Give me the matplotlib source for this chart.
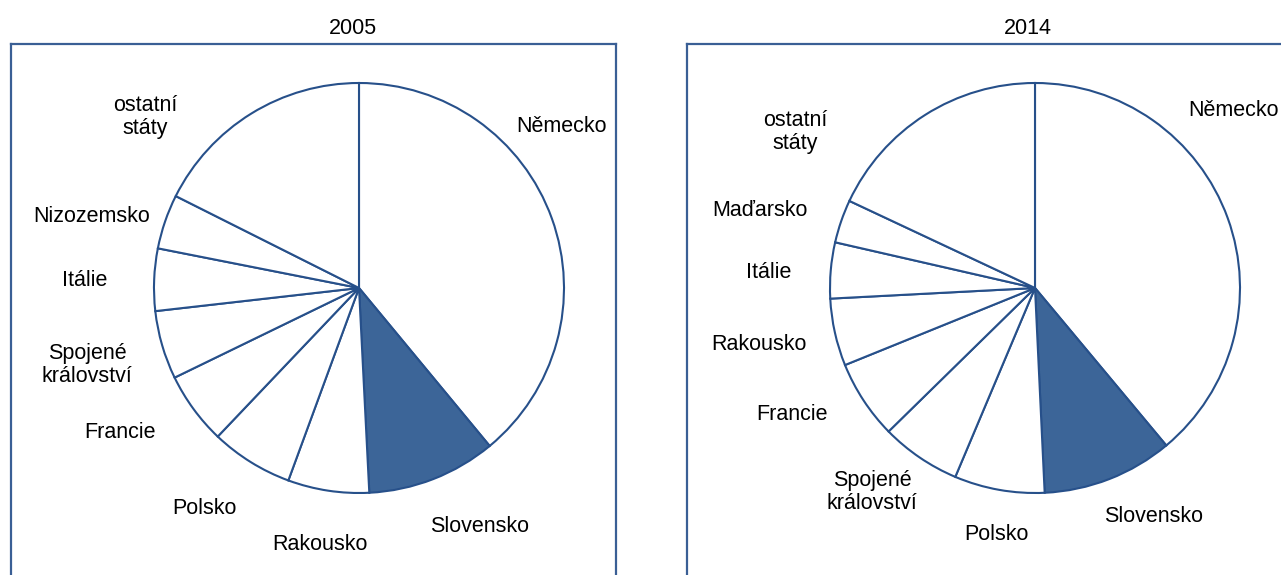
import matplotlib.pyplot as plt

plt.rcParams["font.family"] = ["Liberation Sans", "DejaVu Sans"]

W, H = 1281, 575

# shares (%), clockwise from 12 o'clock
labels_2005 = ["Německo", "Slovensko", "Rakousko", "Polsko", "Francie",
               "Spojené\nkrálovství", "Itálie", "Nizozemsko", "ostatní\nstáty"]
values_2005 = [39.0, 10.2, 6.4, 6.5, 5.7, 5.4, 4.9, 4.3, 17.6]

labels_2014 = ["Německo", "Slovensko", "Polsko", "Spojené\nkrálovství", "Francie",
               "Rakousko", "Itálie", "Maďarsko", "ostatní\nstáty"]
values_2014 = [38.9, 10.3, 7.1, 6.3, 6.2, 5.3, 4.4, 3.4, 18.0]

# label anchor offsets from pie centre, in pixels (layout only)
lbl_pos_2005 = [(202, 161), (121, -239), (-39, -257), (-155, -220), (-239, -145),
                (-272, -77), (-274, 8), (-267, 71), (-214, 171)]
lbl_pos_2014 = [(198, 178), (119, -228), (-39, -247), (-163, -204), (-243, -127),
                (-276, -57), (-266, 16), (-275, 78), (-240, 156)]

EDGE = "#27508A"
FILL = "#3C6598"
BOX = "#3A5F95"
FS = 15.5


def draw_pie(fig, box_px, center_px, labels, values):
    x0, y0, x1, y1 = box_px  # pixel box, y from top
    ax = fig.add_axes([x0 / W, 1 - y1 / H, (x1 - x0) / W, (y1 - y0) / H])
    cx, cy = center_px[0] - x0, y1 - center_px[1]
    ax.pie(values, startangle=90, counterclock=False, radius=205, center=(cx, cy),
           colors=[FILL if l == "Slovensko" else "white" for l in labels],
           wedgeprops=dict(edgecolor=EDGE, linewidth=1.5), frame=True)
    ax.set_aspect("auto")
    ax.set_xlim(0, x1 - x0)
    ax.set_ylim(0, y1 - y0)
    ax.set_xticks([])
    ax.set_yticks([])
    for s in ax.spines.values():
        s.set_color(BOX)
        s.set_linewidth(1.6)
    return ax, cx, cy


fig = plt.figure(figsize=(W / 100, H / 100), dpi=100)

panels = [
    ((11, 44, 616, 640), (359, 288), "2005", labels_2005, values_2005, lbl_pos_2005, (353, 28)),
    ((687, 44, 1320, 640), (1035, 288), "2014", labels_2014, values_2014, lbl_pos_2014, (1028, 28)),
]
for box, cen, title, labs, vals, lpos, tpos in panels:
    ax, cx, cy = draw_pie(fig, box, cen, labs, vals)
    for lab, (dx, dy) in zip(labs, lpos):
        ax.text(cx + dx, cy + dy, lab, ha="center", va="center", fontsize=FS,
                linespacing=1.15, clip_on=False)
    fig.text(tpos[0] / W, 1 - tpos[1] / H, title, ha="center", va="center", fontsize=FS)

fig.savefig("out.png", dpi=100)
